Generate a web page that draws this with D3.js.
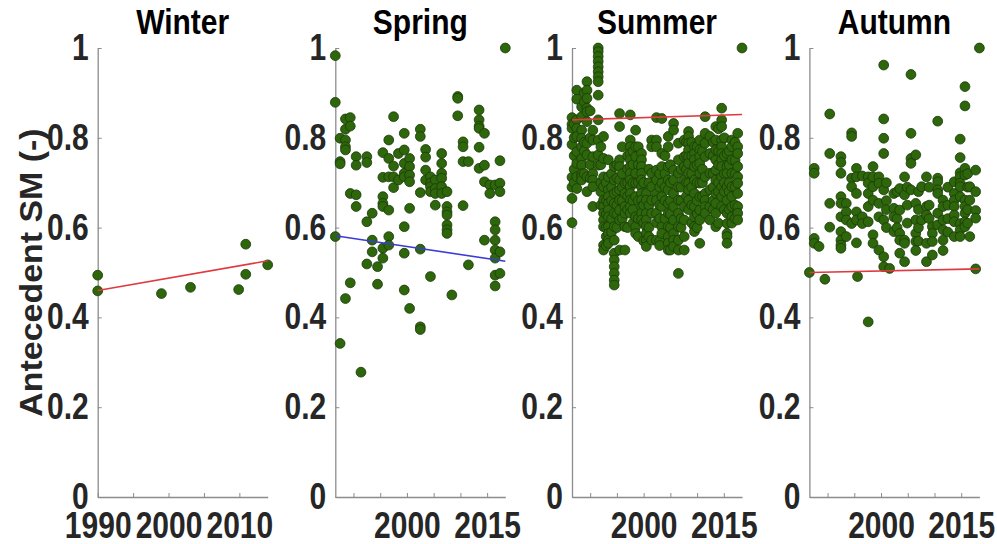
<!DOCTYPE html>
<html>
<head>
<meta charset="utf-8">
<script src="https://cdn.jsdelivr.net/npm/d3@7"></script>
<style>
  body { margin: 0; background: #fff; }
  svg { display: block; }
  text { font-family: "Liberation Sans", Arial, sans-serif; font-weight: bold; }
</style>
</head>
<body>
<svg id="chart" width="997" height="544"></svg>
<script>
// Antecedent soil moisture of events by season, with a linear trend per season.
const seasons = ["Winter", "Spring", "Summer", "Autumn"];

// [year, [antecedent SM values]]
const winterData = [
  [1990.0, [0.494, 0.459]],
  [1999.0, [0.453]],
  [2003.1, [0.467]],
  [2009.9, [0.462]],
  [2010.9, [0.563, 0.496]],
  [2014.0, [0.517]]
];

const springData = [
  [1986.6, [0.983, 0.879, 0.580]],
  [1987.5, [0.799, 0.747, 0.742, 0.342]],
  [1988.5, [0.842, 0.819, 0.795, 0.780, 0.773, 0.442]],
  [1989.4, [0.845, 0.826, 0.676, 0.477]],
  [1990.5, [0.758, 0.739, 0.673, 0.647]],
  [1991.4, [0.278]],
  [1992.5, [0.758, 0.745, 0.613, 0.519]],
  [1993.5, [0.632, 0.572, 0.546]],
  [1994.5, [0.513, 0.474]],
  [1995.5, [0.767, 0.712, 0.669, 0.654, 0.647, 0.554, 0.532]],
  [1996.6, [0.795, 0.754, 0.713, 0.639, 0.580, 0.561]],
  [1997.5, [0.847, 0.737, 0.713, 0.689]],
  [1998.4, [0.765, 0.706]],
  [1999.5, [0.810, 0.773, 0.743, 0.721, 0.713, 0.602, 0.543, 0.461]],
  [2000.5, [0.754, 0.736, 0.717, 0.702, 0.643, 0.420]],
  [2002.5, [0.819, 0.803, 0.678, 0.552, 0.379, 0.373]],
  [2003.5, [0.774, 0.757, 0.728, 0.706]],
  [2004.4, [0.713, 0.699, 0.691, 0.680, 0.491]],
  [2005.3, [0.706, 0.687, 0.676, 0.650]],
  [2006.5, [0.765, 0.743, 0.721, 0.710, 0.691, 0.676]],
  [2007.5, [0.680, 0.647, 0.635, 0.628, 0.606, 0.595, 0.587]],
  [2008.4, [0.450]],
  [2009.5, [0.892, 0.888, 0.849]],
  [2010.5, [0.791, 0.780, 0.747, 0.649]],
  [2011.5, [0.747, 0.517]],
  [2013.5, [0.862, 0.840, 0.826, 0.821, 0.779, 0.732]],
  [2014.5, [0.810, 0.739, 0.702, 0.572]],
  [2015.5, [0.695, 0.676]],
  [2016.5, [0.695, 0.613, 0.595, 0.572, 0.550, 0.532, 0.494, 0.470]],
  [2017.4, [0.749, 0.699, 0.680, 0.546, 0.498]],
  [2018.4, [1.000]]
];

const summerData = [
  [1986.6, [0.845, 0.830, 0.821, 0.785, 0.712, 0.690, 0.665, 0.611]],
  [1987.0, [0.830, 0.800, 0.760, 0.730, 0.700]],
  [1987.5, [0.906, 0.886, 0.840, 0.821, 0.803, 0.769, 0.743, 0.713, 0.687]],
  [1988.4, [0.869, 0.847, 0.817, 0.799, 0.780, 0.754, 0.739, 0.720, 0.713, 0.706]],
  [1988.9, [0.900, 0.880, 0.790, 0.770, 0.720]],
  [1989.4, [0.925, 0.906, 0.888, 0.866, 0.858, 0.836, 0.788, 0.762, 0.713, 0.680]],
  [1990.0, [0.860, 0.800, 0.740, 0.710]],
  [1990.5, [0.817, 0.795, 0.758, 0.720, 0.706, 0.691, 0.647]],
  [1991.5, [1.000, 0.992, 0.981, 0.970, 0.958, 0.947, 0.936, 0.925, 0.895, 0.840, 0.795, 0.762, 0.739]],
  [1992.0, [0.780, 0.740, 0.700, 0.680, 0.650]],
  [1992.5, [0.803, 0.754, 0.713, 0.691, 0.661, 0.647, 0.632, 0.617, 0.602, 0.561, 0.550]],
  [1993.0, [0.700, 0.660, 0.630, 0.600, 0.580, 0.560]],
  [1993.4, [0.751, 0.713, 0.684, 0.669, 0.654, 0.639, 0.624, 0.602, 0.587, 0.572, 0.565]],
  [1994.0, [0.720, 0.690, 0.660, 0.620, 0.590]],
  [1994.5, [0.736, 0.706, 0.676, 0.654, 0.632, 0.602, 0.572, 0.543, 0.528, 0.513, 0.498, 0.483, 0.472]],
  [1995.0, [0.740, 0.710, 0.680, 0.650, 0.630, 0.600]],
  [1995.5, [0.854, 0.825, 0.751, 0.736, 0.706, 0.684, 0.661, 0.639, 0.617, 0.550]],
  [1996.0, [0.780, 0.720, 0.690, 0.660, 0.620]],
  [1996.5, [0.699, 0.676, 0.647, 0.632, 0.602, 0.550]],
  [1997.0, [0.760, 0.730, 0.700, 0.670, 0.640, 0.600]],
  [1997.5, [0.851, 0.795, 0.780, 0.765, 0.751, 0.736, 0.721, 0.706, 0.691, 0.676, 0.661, 0.647, 0.632]],
  [1998.0, [0.770, 0.740, 0.700, 0.660, 0.640, 0.610]],
  [1998.5, [0.817, 0.780, 0.758, 0.721, 0.699, 0.669, 0.624, 0.602, 0.587]],
  [1999.0, [0.780, 0.740, 0.700, 0.660, 0.620, 0.580]],
  [1999.6, [0.765, 0.751, 0.736, 0.721, 0.706, 0.691, 0.676, 0.661, 0.647, 0.632, 0.617]],
  [2000.0, [0.700, 0.650, 0.610, 0.570]],
  [2000.5, [0.676, 0.661, 0.632, 0.617, 0.602, 0.587, 0.572, 0.558]],
  [2001.0, [0.730, 0.700, 0.650, 0.600, 0.580]],
  [2001.5, [0.795, 0.780, 0.721, 0.691, 0.661, 0.632, 0.572]],
  [2002.4, [0.845, 0.795, 0.780, 0.728, 0.706, 0.676, 0.661, 0.632, 0.611, 0.572]],
  [2003.0, [0.720, 0.690, 0.650, 0.620, 0.570, 0.560]],
  [2003.4, [0.843, 0.765, 0.736, 0.699, 0.669, 0.647, 0.602, 0.587]],
  [2004.0, [0.760, 0.720, 0.690, 0.660, 0.620]],
  [2004.6, [0.803, 0.780, 0.736, 0.706, 0.684, 0.654, 0.632, 0.602, 0.580, 0.565, 0.550]],
  [2005.0, [0.740, 0.700, 0.660, 0.630, 0.600, 0.550]],
  [2005.6, [0.832, 0.817, 0.728, 0.706, 0.676, 0.647, 0.617, 0.587, 0.572, 0.558]],
  [2006.5, [0.788, 0.751, 0.721, 0.691, 0.661, 0.632, 0.602, 0.572, 0.550, 0.498]],
  [2007.0, [0.730, 0.690, 0.660, 0.620, 0.600]],
  [2007.6, [0.795, 0.758, 0.736, 0.706, 0.647, 0.617, 0.580, 0.550]],
  [2008.0, [0.790, 0.760, 0.730, 0.700, 0.670]],
  [2008.4, [0.814, 0.803, 0.788, 0.773, 0.758, 0.743, 0.721, 0.699, 0.684, 0.661, 0.640]],
  [2009.0, [0.790, 0.760, 0.720, 0.690, 0.650, 0.610]],
  [2009.5, [0.780, 0.765, 0.751, 0.736, 0.706, 0.676, 0.647, 0.624, 0.602, 0.591]],
  [2010.0, [0.780, 0.740, 0.700, 0.660, 0.630, 0.600]],
  [2010.5, [0.795, 0.773, 0.758, 0.743, 0.721, 0.699, 0.669, 0.639, 0.617, 0.565]],
  [2011.0, [0.770, 0.730, 0.700, 0.670]],
  [2011.5, [0.847, 0.810, 0.788, 0.758, 0.713, 0.676, 0.661, 0.647, 0.632]],
  [2012.4, [0.803, 0.765, 0.721, 0.684, 0.647, 0.617]],
  [2013.0, [0.790, 0.760, 0.720, 0.690, 0.660, 0.640]],
  [2013.5, [0.825, 0.795, 0.773, 0.751, 0.728, 0.706, 0.676, 0.654, 0.632, 0.602]],
  [2014.0, [0.820, 0.770, 0.740, 0.700, 0.680, 0.610]],
  [2014.6, [0.866, 0.840, 0.825, 0.795, 0.780, 0.765, 0.751, 0.736, 0.713, 0.691, 0.669, 0.647]],
  [2015.1, [0.800, 0.760, 0.720, 0.700, 0.680, 0.640]],
  [2015.6, [0.765, 0.736, 0.721, 0.691, 0.661, 0.632, 0.609, 0.587, 0.580, 0.565]],
  [2016.0, [0.770, 0.740, 0.700, 0.680, 0.640]],
  [2016.5, [0.795, 0.780, 0.751, 0.721, 0.691, 0.669, 0.647, 0.624, 0.610]],
  [2017.1, [0.790, 0.750, 0.720, 0.690, 0.650, 0.620]],
  [2017.6, [0.810, 0.780, 0.765, 0.736, 0.713, 0.699, 0.676, 0.647, 0.632, 0.617]],
  [2018.4, [1.000]]
];

const autumnData = [
  [1986.6, [0.500]],
  [1987.5, [0.732, 0.721, 0.576, 0.565]],
  [1988.4, [0.558]],
  [1989.5, [0.485]],
  [1990.4, [0.853, 0.765, 0.654, 0.601]],
  [1992.5, [0.758, 0.745, 0.721, 0.669, 0.654, 0.624, 0.591, 0.572, 0.561, 0.554]],
  [1993.5, [0.654, 0.635, 0.617, 0.580]],
  [1994.5, [0.811, 0.803, 0.710, 0.691, 0.609]],
  [1995.4, [0.732, 0.713, 0.676, 0.635, 0.617, 0.566]],
  [1995.6, [0.491]],
  [1996.5, [0.715, 0.624, 0.609]],
  [1997.6, [0.713, 0.699, 0.676, 0.647, 0.613, 0.390]],
  [1998.5, [0.736, 0.713, 0.691, 0.661, 0.584, 0.565]],
  [1999.6, [0.713, 0.699, 0.654, 0.624, 0.550]],
  [2000.5, [0.962, 0.842, 0.799, 0.765, 0.684, 0.617, 0.535, 0.513]],
  [2001.0, [0.700, 0.660, 0.640, 0.600]],
  [2001.6, [0.509]],
  [2002.4, [0.676, 0.643, 0.624, 0.591]],
  [2003.0, [0.680, 0.620, 0.600]],
  [2003.5, [0.687, 0.639, 0.587, 0.572, 0.543]],
  [2004.4, [0.713, 0.673, 0.572, 0.565, 0.524]],
  [2004.9, [0.690, 0.650, 0.610]],
  [2005.6, [0.941, 0.810, 0.754, 0.743, 0.684]],
  [2006.5, [0.762, 0.654, 0.617, 0.587, 0.569, 0.549]],
  [2007.0, [0.680, 0.640, 0.600, 0.570]],
  [2007.6, [0.691, 0.617]],
  [2008.5, [0.713, 0.647, 0.628, 0.565, 0.524]],
  [2009.0, [0.690, 0.650, 0.620]],
  [2009.6, [0.602, 0.587, 0.569, 0.539]],
  [2010.6, [0.837, 0.710, 0.702, 0.684, 0.676, 0.632, 0.606]],
  [2011.6, [0.661, 0.647, 0.617, 0.595, 0.572, 0.549]],
  [2012.5, [0.690, 0.650, 0.620, 0.590]],
  [2013.7, [0.702, 0.676, 0.661, 0.647, 0.628, 0.613, 0.580]],
  [2014.8, [0.797, 0.756, 0.722, 0.713, 0.699, 0.691, 0.669, 0.609, 0.595, 0.580]],
  [2015.7, [0.914, 0.871, 0.732, 0.717, 0.661, 0.647, 0.632, 0.613, 0.602]],
  [2016.2, [0.720, 0.690, 0.640, 0.610]],
  [2016.6, [0.691, 0.661, 0.580]],
  [2017.7, [0.728, 0.680, 0.638, 0.621, 0.508]],
  [2018.4, [1.000]]
];

const seasonData = [winterData, springData, summerData, autumnData];

// Year ranges of each panel
const xDomains = [[1990, 2014], [1986.6, 2018.4], [1986.6, 2018.4], [1986.6, 2018.4]];

// Linear trend: value at start and end of the year range
const trendStart = [0.460, 0.582, 0.840, 0.500];
const trendEnd   = [0.526, 0.525, 0.852, 0.508];
const trendColor = ["#e0393e", "#3b3bd6", "#e0393e", "#e0393e"];

const yTicks = [0, 0.2, 0.4, 0.6, 0.8, 1];
const yTickLabels = ["0", "0.2", "0.4", "0.6", "0.8", "1"];
const xTicksWinter = [1990, 1995, 2000, 2005, 2010];
const xLabelsWinter = ["1990", "", "2000", "", "2010"];
const xTicksOther = [1990, 1995, 2000, 2005, 2010, 2015];
const xLabelsOther = ["", "", "2000", "", "", "2015"];

const svg = d3.select("#chart");
const panelLeft = [97.7, 335.3, 572, 809.4];
const panelWidth = 170;
const plotTop = 48, plotBottom = 497;
const stretch = 1.2; // glyphs are drawn taller than wide

const y = d3.scaleLinear().domain([0, 1]).range([plotBottom, plotTop]);

seasons.forEach((name, i) => {
  const x0 = panelLeft[i];
  const x = d3.scaleLinear().domain(xDomains[i]).range([x0, x0 + panelWidth]);
  const g = svg.append("g");

  const ticks = i === 0 ? xTicksWinter : xTicksOther;
  const labels = i === 0 ? xLabelsWinter : xLabelsOther;

  const xAxis = d3.axisBottom(x)
    .tickValues(ticks)
    .tickFormat((d, k) => labels[k])
    .tickSizeInner(-4).tickSizeOuter(0).tickPadding(12.5);
  const yAxis = d3.axisLeft(y)
    .tickValues(yTicks)
    .tickFormat((d, k) => yTickLabels[k])
    .tickSizeInner(-4).tickSizeOuter(0).tickPadding(9);

  const gx = g.append("g").attr("transform", `translate(0,${plotBottom})`).call(xAxis);
  const gy = g.append("g").attr("transform", `translate(${x0},0)`).call(yAxis);
  [gx, gy].forEach(a => {
    a.select(".domain").attr("stroke", "#8c8c8c").attr("stroke-width", 1.3);
    a.selectAll(".tick line").attr("stroke", "#8c8c8c").attr("stroke-width", 1);
    a.selectAll(".tick text").attr("fill", "#262626")
      .attr("transform", `scale(1,${stretch})`)
      .style("font-size", "30px").style("font-family", "'Liberation Sans', Arial, sans-serif")
      .style("font-weight", "bold");
  });

  // event points
  const pts = [];
  seasonData[i].forEach(([yr, vals]) => vals.forEach(v => pts.push([yr, v])));
  g.append("g").selectAll("circle").data(pts).join("circle")
    .attr("cx", d => x(d[0]))
    .attr("cy", d => y(d[1]))
    .attr("r", 4.9)
    .attr("fill", "#2e660c")
    .attr("stroke", "#1b3a07")
    .attr("stroke-width", 0.8);

  // trend line
  g.append("line")
    .attr("x1", x(xDomains[i][0])).attr("y1", y(trendStart[i]))
    .attr("x2", x(xDomains[i][1])).attr("y2", y(trendEnd[i]))
    .attr("stroke", trendColor[i]).attr("stroke-width", 1.6);

  // panel title
  g.append("text")
    .attr("transform", `translate(${x0 + panelWidth / 2},34) scale(1,1.15)`)
    .attr("text-anchor", "middle")
    .attr("fill", "#000")
    .style("font-size", "30px")
    .text(name);
});

// shared y-axis label
svg.append("text")
  .attr("transform", `translate(42,${(plotTop + plotBottom) / 2}) rotate(-90) scale(1.06,1)`)
  .attr("text-anchor", "middle")
  .attr("fill", "#262626")
  .style("font-size", "32px")
  .text("Antecedent SM (-)");
</script>
</body>
</html>
